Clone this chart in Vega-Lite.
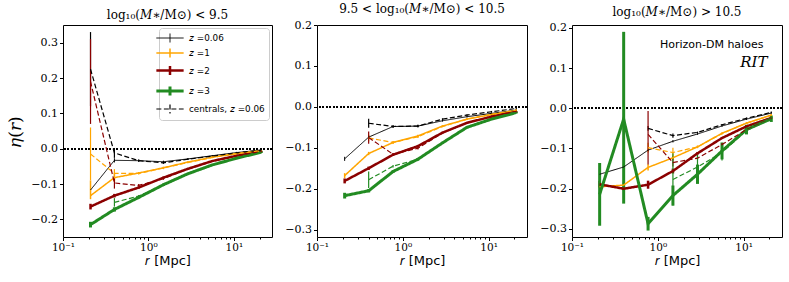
{
  "$schema": "https://vega.github.io/schema/vega-lite/v6.json",
  "padding": {"left": 6, "top": 2, "right": 8, "bottom": 2},
  "spacing": 10,
  "config": {
    "font": "DejaVu Serif",
    "view": {"stroke": "black", "strokeWidth": 1},
    "axis": {"labelFont": "DejaVu Serif", "labelFontSize": 11, "labelColor": "black", "tickColor": "black", "tickWidth": 1, "tickSize": 3.5, "labelPadding": 2, "labelFlush": false, "domain": false, "grid": false, "titleFont": "DejaVu Sans", "titleFontWeight": "normal", "titleFontSize": 13, "titleColor": "black"},
    "axisX": {"labelFontSize": 10.5, "labelPadding": 1.5},
    "legend": {"title": null, "orient": "top-right", "offset": 3, "symbolType": "M-2.6,0H2.6M0,-0.85V0.85", "symbolSize": 110, "symbolOffset": 0, "labelOffset": 12, "labelFont": "DejaVu Sans", "labelFontSize": 8.8, "labelColor": "black", "strokeColor": "#cccccc", "fillColor": "rgba(255,255,255,0.8)", "padding": 4, "cornerRadius": 3, "rowPadding": 0},
    "title": {"font": "DejaVu Serif", "fontSize": 12, "fontWeight": "normal", "offset": 3, "color": "black"}
  },
  "datasets": {
    "pts": [
      {"p":1,"s":"𝑧 =0.06","x":0.21,"y":-0.117,"lo":-0.127,"hi":-0.107},
      {"p":1,"s":"𝑧 =0.06","x":0.4,"y":-0.033,"lo":-0.039,"hi":-0.027},
      {"p":1,"s":"𝑧 =0.06","x":0.77,"y":-0.034,"lo":-0.037,"hi":-0.031},
      {"p":1,"s":"𝑧 =0.06","x":1.5,"y":-0.037,"lo":-0.04,"hi":-0.034},
      {"p":1,"s":"𝑧 =0.06","x":2.9,"y":-0.029,"lo":-0.031,"hi":-0.027},
      {"p":1,"s":"𝑧 =0.06","x":5.6,"y":-0.02,"lo":-0.022,"hi":-0.018},
      {"p":1,"s":"𝑧 =0.06","x":10.8,"y":-0.011,"lo":-0.013,"hi":-0.009},
      {"p":1,"s":"𝑧 =0.06","x":21,"y":-0.004,"lo":-0.006,"hi":-0.002},
      {"p":1,"s":"𝑧 =1","x":0.21,"y":-0.133,"lo":-0.143,"hi":-0.09},
      {"p":1,"s":"𝑧 =1","x":0.4,"y":-0.082,"lo":-0.094,"hi":-0.07},
      {"p":1,"s":"𝑧 =1","x":0.77,"y":-0.069,"lo":-0.072,"hi":-0.066},
      {"p":1,"s":"𝑧 =1","x":1.5,"y":-0.054,"lo":-0.057,"hi":-0.051},
      {"p":1,"s":"𝑧 =1","x":2.9,"y":-0.038,"lo":-0.04,"hi":-0.036},
      {"p":1,"s":"𝑧 =1","x":5.6,"y":-0.024,"lo":-0.026,"hi":-0.022},
      {"p":1,"s":"𝑧 =1","x":10.8,"y":-0.014,"lo":-0.016,"hi":-0.012},
      {"p":1,"s":"𝑧 =1","x":21,"y":-0.006,"lo":-0.008,"hi":-0.004},
      {"p":1,"s":"𝑧 =2","x":0.21,"y":-0.164,"lo":-0.172,"hi":-0.156},
      {"p":1,"s":"𝑧 =2","x":0.4,"y":-0.133,"lo":-0.138,"hi":-0.128},
      {"p":1,"s":"𝑧 =2","x":0.77,"y":-0.11,"lo":-0.113,"hi":-0.107},
      {"p":1,"s":"𝑧 =2","x":1.5,"y":-0.082,"lo":-0.085,"hi":-0.079},
      {"p":1,"s":"𝑧 =2","x":2.9,"y":-0.057,"lo":-0.059,"hi":-0.055},
      {"p":1,"s":"𝑧 =2","x":5.6,"y":-0.035,"lo":-0.037,"hi":-0.033},
      {"p":1,"s":"𝑧 =2","x":10.8,"y":-0.02,"lo":-0.022,"hi":-0.018},
      {"p":1,"s":"𝑧 =2","x":21,"y":-0.008,"lo":-0.01,"hi":-0.006},
      {"p":1,"s":"𝑧 =3","x":0.21,"y":-0.215,"lo":-0.223,"hi":-0.207},
      {"p":1,"s":"𝑧 =3","x":0.4,"y":-0.172,"lo":-0.178,"hi":-0.166},
      {"p":1,"s":"𝑧 =3","x":0.77,"y":-0.138,"lo":-0.141,"hi":-0.135},
      {"p":1,"s":"𝑧 =3","x":1.5,"y":-0.102,"lo":-0.105,"hi":-0.099},
      {"p":1,"s":"𝑧 =3","x":2.9,"y":-0.071,"lo":-0.073,"hi":-0.069},
      {"p":1,"s":"𝑧 =3","x":5.6,"y":-0.046,"lo":-0.048,"hi":-0.044},
      {"p":1,"s":"𝑧 =3","x":10.8,"y":-0.027,"lo":-0.029,"hi":-0.025},
      {"p":1,"s":"𝑧 =3","x":21,"y":-0.01,"lo":-0.012,"hi":-0.008},
      {"p":1,"s":"centrals, 𝑧 =0.06","x":0.21,"y":0.225,"lo":0.12,"hi":0.33},
      {"p":1,"s":"centrals, 𝑧 =0.06","x":0.4,"y":-0.012,"lo":-0.026,"hi":0.002},
      {"p":1,"s":"centrals, 𝑧 =0.06","x":0.77,"y":-0.034,"lo":-0.037,"hi":-0.031},
      {"p":1,"s":"centrals, 𝑧 =0.06","x":1.5,"y":-0.04,"lo":-0.043,"hi":-0.037},
      {"p":1,"s":"centrals, 𝑧 =0.06","x":2.9,"y":-0.03,"lo":-0.032,"hi":-0.028},
      {"p":1,"s":"centrals, 𝑧 =0.06","x":5.6,"y":-0.021,"lo":-0.023,"hi":-0.019},
      {"p":1,"s":"centrals, 𝑧 =0.06","x":10.8,"y":-0.012,"lo":-0.014,"hi":-0.01},
      {"p":1,"s":"centrals, 𝑧 =0.06","x":21,"y":-0.004,"lo":-0.006,"hi":-0.002},
      {"p":1,"s":"centrals, 𝑧 =1","x":0.21,"y":-0.015,"lo":-0.09,"hi":0.06},
      {"p":1,"s":"centrals, 𝑧 =1","x":0.4,"y":-0.07,"lo":-0.082,"hi":-0.058},
      {"p":1,"s":"centrals, 𝑧 =1","x":0.77,"y":-0.07,"lo":-0.073,"hi":-0.067},
      {"p":1,"s":"centrals, 𝑧 =1","x":1.5,"y":-0.055,"lo":-0.058,"hi":-0.052},
      {"p":1,"s":"centrals, 𝑧 =1","x":2.9,"y":-0.039,"lo":-0.041,"hi":-0.037},
      {"p":1,"s":"centrals, 𝑧 =1","x":5.6,"y":-0.025,"lo":-0.027,"hi":-0.023},
      {"p":1,"s":"centrals, 𝑧 =1","x":10.8,"y":-0.014,"lo":-0.016,"hi":-0.012},
      {"p":1,"s":"centrals, 𝑧 =1","x":21,"y":-0.006,"lo":-0.008,"hi":-0.004},
      {"p":1,"s":"centrals, 𝑧 =2","x":0.21,"y":0.19,"lo":0.07,"hi":0.31},
      {"p":1,"s":"centrals, 𝑧 =2","x":0.4,"y":-0.097,"lo":-0.113,"hi":-0.081},
      {"p":1,"s":"centrals, 𝑧 =2","x":0.77,"y":-0.104,"lo":-0.108,"hi":-0.1},
      {"p":1,"s":"centrals, 𝑧 =2","x":1.5,"y":-0.085,"lo":-0.088,"hi":-0.082},
      {"p":1,"s":"centrals, 𝑧 =2","x":2.9,"y":-0.058,"lo":-0.06,"hi":-0.056},
      {"p":1,"s":"centrals, 𝑧 =2","x":5.6,"y":-0.036,"lo":-0.038,"hi":-0.034},
      {"p":1,"s":"centrals, 𝑧 =2","x":10.8,"y":-0.02,"lo":-0.022,"hi":-0.018},
      {"p":1,"s":"centrals, 𝑧 =2","x":21,"y":-0.008,"lo":-0.01,"hi":-0.006},
      {"p":1,"s":"centrals, 𝑧 =3","x":0.4,"y":-0.152,"lo":-0.164,"hi":-0.14},
      {"p":1,"s":"centrals, 𝑧 =3","x":0.77,"y":-0.134,"lo":-0.137,"hi":-0.131},
      {"p":1,"s":"centrals, 𝑧 =3","x":1.5,"y":-0.103,"lo":-0.106,"hi":-0.1},
      {"p":1,"s":"centrals, 𝑧 =3","x":2.9,"y":-0.072,"lo":-0.074,"hi":-0.07},
      {"p":1,"s":"centrals, 𝑧 =3","x":5.6,"y":-0.047,"lo":-0.049,"hi":-0.045},
      {"p":1,"s":"centrals, 𝑧 =3","x":10.8,"y":-0.027,"lo":-0.029,"hi":-0.025},
      {"p":1,"s":"centrals, 𝑧 =3","x":21,"y":-0.01,"lo":-0.012,"hi":-0.008},

      {"p":2,"s":"𝑧 =0.06","x":0.21,"y":-0.127,"lo":-0.132,"hi":-0.122},
      {"p":2,"s":"𝑧 =0.06","x":0.4,"y":-0.074,"lo":-0.079,"hi":-0.069},
      {"p":2,"s":"𝑧 =0.06","x":0.77,"y":-0.048,"lo":-0.051,"hi":-0.045},
      {"p":2,"s":"𝑧 =0.06","x":1.5,"y":-0.047,"lo":-0.05,"hi":-0.044},
      {"p":2,"s":"𝑧 =0.06","x":2.9,"y":-0.034,"lo":-0.036,"hi":-0.032},
      {"p":2,"s":"𝑧 =0.06","x":5.6,"y":-0.024,"lo":-0.026,"hi":-0.022},
      {"p":2,"s":"𝑧 =0.06","x":10.8,"y":-0.016,"lo":-0.018,"hi":-0.014},
      {"p":2,"s":"𝑧 =0.06","x":21,"y":-0.008,"lo":-0.01,"hi":-0.006},
      {"p":2,"s":"𝑧 =1","x":0.21,"y":-0.168,"lo":-0.174,"hi":-0.162},
      {"p":2,"s":"𝑧 =1","x":0.4,"y":-0.114,"lo":-0.118,"hi":-0.11},
      {"p":2,"s":"𝑧 =1","x":0.77,"y":-0.087,"lo":-0.09,"hi":-0.084},
      {"p":2,"s":"𝑧 =1","x":1.5,"y":-0.071,"lo":-0.074,"hi":-0.068},
      {"p":2,"s":"𝑧 =1","x":2.9,"y":-0.047,"lo":-0.049,"hi":-0.045},
      {"p":2,"s":"𝑧 =1","x":5.6,"y":-0.03,"lo":-0.032,"hi":-0.028},
      {"p":2,"s":"𝑧 =1","x":10.8,"y":-0.019,"lo":-0.021,"hi":-0.017},
      {"p":2,"s":"𝑧 =1","x":21,"y":-0.009,"lo":-0.011,"hi":-0.007},
      {"p":2,"s":"𝑧 =2","x":0.21,"y":-0.181,"lo":-0.187,"hi":-0.175},
      {"p":2,"s":"𝑧 =2","x":0.4,"y":-0.15,"lo":-0.154,"hi":-0.146},
      {"p":2,"s":"𝑧 =2","x":0.77,"y":-0.117,"lo":-0.12,"hi":-0.114},
      {"p":2,"s":"𝑧 =2","x":1.5,"y":-0.096,"lo":-0.099,"hi":-0.093},
      {"p":2,"s":"𝑧 =2","x":2.9,"y":-0.063,"lo":-0.065,"hi":-0.061},
      {"p":2,"s":"𝑧 =2","x":5.6,"y":-0.039,"lo":-0.041,"hi":-0.037},
      {"p":2,"s":"𝑧 =2","x":10.8,"y":-0.024,"lo":-0.026,"hi":-0.022},
      {"p":2,"s":"𝑧 =2","x":21,"y":-0.012,"lo":-0.014,"hi":-0.01},
      {"p":2,"s":"𝑧 =3","x":0.21,"y":-0.217,"lo":-0.224,"hi":-0.21},
      {"p":2,"s":"𝑧 =3","x":0.4,"y":-0.205,"lo":-0.209,"hi":-0.201},
      {"p":2,"s":"𝑧 =3","x":0.77,"y":-0.158,"lo":-0.161,"hi":-0.155},
      {"p":2,"s":"𝑧 =3","x":1.5,"y":-0.128,"lo":-0.131,"hi":-0.125},
      {"p":2,"s":"𝑧 =3","x":2.9,"y":-0.088,"lo":-0.09,"hi":-0.086},
      {"p":2,"s":"𝑧 =3","x":5.6,"y":-0.05,"lo":-0.052,"hi":-0.048},
      {"p":2,"s":"𝑧 =3","x":10.8,"y":-0.03,"lo":-0.032,"hi":-0.028},
      {"p":2,"s":"𝑧 =3","x":21,"y":-0.014,"lo":-0.016,"hi":-0.012},
      {"p":2,"s":"centrals, 𝑧 =0.06","x":0.4,"y":-0.04,"lo":-0.051,"hi":-0.029},
      {"p":2,"s":"centrals, 𝑧 =0.06","x":0.77,"y":-0.048,"lo":-0.051,"hi":-0.045},
      {"p":2,"s":"centrals, 𝑧 =0.06","x":1.5,"y":-0.047,"lo":-0.05,"hi":-0.044},
      {"p":2,"s":"centrals, 𝑧 =0.06","x":2.9,"y":-0.03,"lo":-0.032,"hi":-0.028},
      {"p":2,"s":"centrals, 𝑧 =0.06","x":5.6,"y":-0.02,"lo":-0.022,"hi":-0.018},
      {"p":2,"s":"centrals, 𝑧 =0.06","x":10.8,"y":-0.012,"lo":-0.014,"hi":-0.01},
      {"p":2,"s":"centrals, 𝑧 =0.06","x":21,"y":-0.004,"lo":-0.006,"hi":-0.002},
      {"p":2,"s":"centrals, 𝑧 =1","x":0.4,"y":-0.076,"lo":-0.084,"hi":-0.068},
      {"p":2,"s":"centrals, 𝑧 =1","x":0.77,"y":-0.087,"lo":-0.09,"hi":-0.084},
      {"p":2,"s":"centrals, 𝑧 =1","x":1.5,"y":-0.073,"lo":-0.076,"hi":-0.07},
      {"p":2,"s":"centrals, 𝑧 =1","x":2.9,"y":-0.048,"lo":-0.05,"hi":-0.046},
      {"p":2,"s":"centrals, 𝑧 =1","x":5.6,"y":-0.03,"lo":-0.032,"hi":-0.028},
      {"p":2,"s":"centrals, 𝑧 =1","x":10.8,"y":-0.018,"lo":-0.02,"hi":-0.016},
      {"p":2,"s":"centrals, 𝑧 =1","x":21,"y":-0.008,"lo":-0.01,"hi":-0.006},
      {"p":2,"s":"centrals, 𝑧 =2","x":0.4,"y":-0.075,"lo":-0.09,"hi":-0.06},
      {"p":2,"s":"centrals, 𝑧 =2","x":0.77,"y":-0.116,"lo":-0.119,"hi":-0.113},
      {"p":2,"s":"centrals, 𝑧 =2","x":1.5,"y":-0.101,"lo":-0.104,"hi":-0.098},
      {"p":2,"s":"centrals, 𝑧 =2","x":2.9,"y":-0.064,"lo":-0.066,"hi":-0.062},
      {"p":2,"s":"centrals, 𝑧 =2","x":5.6,"y":-0.039,"lo":-0.041,"hi":-0.037},
      {"p":2,"s":"centrals, 𝑧 =2","x":10.8,"y":-0.023,"lo":-0.025,"hi":-0.021},
      {"p":2,"s":"centrals, 𝑧 =2","x":21,"y":-0.011,"lo":-0.013,"hi":-0.009},
      {"p":2,"s":"centrals, 𝑧 =3","x":0.4,"y":-0.178,"lo":-0.198,"hi":-0.158},
      {"p":2,"s":"centrals, 𝑧 =3","x":0.77,"y":-0.145,"lo":-0.148,"hi":-0.142},
      {"p":2,"s":"centrals, 𝑧 =3","x":1.5,"y":-0.128,"lo":-0.131,"hi":-0.125},
      {"p":2,"s":"centrals, 𝑧 =3","x":2.9,"y":-0.088,"lo":-0.09,"hi":-0.086},
      {"p":2,"s":"centrals, 𝑧 =3","x":5.6,"y":-0.05,"lo":-0.052,"hi":-0.048},
      {"p":2,"s":"centrals, 𝑧 =3","x":10.8,"y":-0.029,"lo":-0.031,"hi":-0.027},
      {"p":2,"s":"centrals, 𝑧 =3","x":21,"y":-0.013,"lo":-0.015,"hi":-0.011},

      {"p":3,"s":"𝑧 =0.06","x":0.21,"y":-0.164,"lo":-0.169,"hi":-0.159},
      {"p":3,"s":"𝑧 =0.06","x":0.4,"y":-0.146,"lo":-0.15,"hi":-0.142},
      {"p":3,"s":"𝑧 =0.06","x":0.77,"y":-0.104,"lo":-0.107,"hi":-0.101},
      {"p":3,"s":"𝑧 =0.06","x":1.5,"y":-0.082,"lo":-0.085,"hi":-0.079},
      {"p":3,"s":"𝑧 =0.06","x":2.9,"y":-0.064,"lo":-0.066,"hi":-0.062},
      {"p":3,"s":"𝑧 =0.06","x":5.6,"y":-0.044,"lo":-0.046,"hi":-0.042},
      {"p":3,"s":"𝑧 =0.06","x":10.8,"y":-0.027,"lo":-0.029,"hi":-0.025},
      {"p":3,"s":"𝑧 =0.06","x":21,"y":-0.012,"lo":-0.014,"hi":-0.01},
      {"p":3,"s":"𝑧 =1","x":0.21,"y":-0.195,"lo":-0.201,"hi":-0.189},
      {"p":3,"s":"𝑧 =1","x":0.4,"y":-0.191,"lo":-0.196,"hi":-0.186},
      {"p":3,"s":"𝑧 =1","x":0.77,"y":-0.147,"lo":-0.155,"hi":-0.139},
      {"p":3,"s":"𝑧 =1","x":1.5,"y":-0.123,"lo":-0.128,"hi":-0.118},
      {"p":3,"s":"𝑧 =1","x":2.9,"y":-0.096,"lo":-0.099,"hi":-0.093},
      {"p":3,"s":"𝑧 =1","x":5.6,"y":-0.062,"lo":-0.064,"hi":-0.06},
      {"p":3,"s":"𝑧 =1","x":10.8,"y":-0.037,"lo":-0.039,"hi":-0.035},
      {"p":3,"s":"𝑧 =1","x":21,"y":-0.017,"lo":-0.019,"hi":-0.015},
      {"p":3,"s":"𝑧 =2","x":0.21,"y":-0.189,"lo":-0.197,"hi":-0.181},
      {"p":3,"s":"𝑧 =2","x":0.4,"y":-0.2,"lo":-0.204,"hi":-0.196},
      {"p":3,"s":"𝑧 =2","x":0.77,"y":-0.19,"lo":-0.2,"hi":-0.18},
      {"p":3,"s":"𝑧 =2","x":1.5,"y":-0.156,"lo":-0.162,"hi":-0.15},
      {"p":3,"s":"𝑧 =2","x":2.9,"y":-0.112,"lo":-0.115,"hi":-0.109},
      {"p":3,"s":"𝑧 =2","x":5.6,"y":-0.074,"lo":-0.076,"hi":-0.072},
      {"p":3,"s":"𝑧 =2","x":10.8,"y":-0.045,"lo":-0.047,"hi":-0.043},
      {"p":3,"s":"𝑧 =2","x":21,"y":-0.024,"lo":-0.026,"hi":-0.022},
      {"p":3,"s":"𝑧 =3","x":0.21,"y":-0.214,"lo":-0.292,"hi":-0.136},
      {"p":3,"s":"𝑧 =3","x":0.4,"y":-0.027,"lo":-0.237,"hi":0.19},
      {"p":3,"s":"𝑧 =3","x":0.77,"y":-0.287,"lo":-0.304,"hi":-0.27},
      {"p":3,"s":"𝑧 =3","x":1.5,"y":-0.217,"lo":-0.242,"hi":-0.192},
      {"p":3,"s":"𝑧 =3","x":2.9,"y":-0.164,"lo":-0.188,"hi":-0.14},
      {"p":3,"s":"𝑧 =3","x":5.6,"y":-0.106,"lo":-0.127,"hi":-0.085},
      {"p":3,"s":"𝑧 =3","x":10.8,"y":-0.053,"lo":-0.065,"hi":-0.041},
      {"p":3,"s":"𝑧 =3","x":21,"y":-0.026,"lo":-0.034,"hi":-0.018},
      {"p":3,"s":"centrals, 𝑧 =0.06","x":0.77,"y":-0.05,"lo":-0.056,"hi":-0.044},
      {"p":3,"s":"centrals, 𝑧 =0.06","x":1.5,"y":-0.068,"lo":-0.073,"hi":-0.063},
      {"p":3,"s":"centrals, 𝑧 =0.06","x":2.9,"y":-0.06,"lo":-0.062,"hi":-0.058},
      {"p":3,"s":"centrals, 𝑧 =0.06","x":5.6,"y":-0.041,"lo":-0.043,"hi":-0.039},
      {"p":3,"s":"centrals, 𝑧 =0.06","x":10.8,"y":-0.025,"lo":-0.027,"hi":-0.023},
      {"p":3,"s":"centrals, 𝑧 =0.06","x":21,"y":-0.01,"lo":-0.012,"hi":-0.008},
      {"p":3,"s":"centrals, 𝑧 =1","x":0.77,"y":-0.098,"lo":-0.11,"hi":-0.086},
      {"p":3,"s":"centrals, 𝑧 =1","x":1.5,"y":-0.11,"lo":-0.122,"hi":-0.098},
      {"p":3,"s":"centrals, 𝑧 =1","x":2.9,"y":-0.096,"lo":-0.099,"hi":-0.093},
      {"p":3,"s":"centrals, 𝑧 =1","x":5.6,"y":-0.063,"lo":-0.065,"hi":-0.061},
      {"p":3,"s":"centrals, 𝑧 =1","x":10.8,"y":-0.037,"lo":-0.039,"hi":-0.035},
      {"p":3,"s":"centrals, 𝑧 =1","x":21,"y":-0.017,"lo":-0.019,"hi":-0.015},
      {"p":3,"s":"centrals, 𝑧 =2","x":0.77,"y":-0.065,"lo":-0.14,"hi":-0.007},
      {"p":3,"s":"centrals, 𝑧 =2","x":1.5,"y":-0.135,"lo":-0.145,"hi":-0.125},
      {"p":3,"s":"centrals, 𝑧 =2","x":2.9,"y":-0.124,"lo":-0.128,"hi":-0.12},
      {"p":3,"s":"centrals, 𝑧 =2","x":5.6,"y":-0.09,"lo":-0.093,"hi":-0.087},
      {"p":3,"s":"centrals, 𝑧 =2","x":10.8,"y":-0.053,"lo":-0.055,"hi":-0.051},
      {"p":3,"s":"centrals, 𝑧 =2","x":21,"y":-0.025,"lo":-0.027,"hi":-0.023},
      {"p":3,"s":"centrals, 𝑧 =3","x":1.5,"y":-0.177,"lo":-0.242,"hi":-0.112},
      {"p":3,"s":"centrals, 𝑧 =3","x":2.9,"y":-0.146,"lo":-0.176,"hi":-0.116},
      {"p":3,"s":"centrals, 𝑧 =3","x":5.6,"y":-0.11,"lo":-0.13,"hi":-0.09},
      {"p":3,"s":"centrals, 𝑧 =3","x":10.8,"y":-0.055,"lo":-0.062,"hi":-0.048},
      {"p":3,"s":"centrals, 𝑧 =3","x":21,"y":-0.026,"lo":-0.03,"hi":-0.022}
    ]
  },
  "hconcat": [
    {
      "width": 209, "height": 212,
      "title": "log₁₀(𝑀∗/M⊙) < 9.5",
      "data": {"name": "pts"},
      "transform": [{"filter": "datum.p == 1"}],
      "layer": [
        {"mark": {"type": "rule", "strokeDash": [1.5, 2], "strokeWidth": 1.5, "color": "black"},
         "encoding": {"y": {"datum": 0, "type": "quantitative", "scale": {"domain": [-0.25, 0.35]}, "axis": {"values": [-0.2, -0.1, 0, 0.1, 0.2, 0.3], "format": ".1f", "labelExpr": "replace(datum.label, '-', '−')", "title": "𝜂(𝑟)", "titleFont": "DejaVu Serif", "titleFontSize": 17, "titlePadding": 6}}}},
        {"mark": {"type": "rule"},
         "encoding": {
           "x": {"field": "x", "type": "quantitative", "scale": {"type": "log", "domain": [0.1, 28], "nice": false}, "axis": {"orient": "bottom", "values": [0.2,0.3,0.4,0.5,0.6,0.7,0.8,0.9,2,3,4,5,6,7,8,9,20], "labels": false, "title": null, "tickSize": 2}},
           "y": {"field": "lo", "type": "quantitative", "scale": {"domain": [-0.25, 0.35]}, "axis": {"values": [-0.2, -0.1, 0, 0.1, 0.2, 0.3], "format": ".1f", "labelExpr": "replace(datum.label, '-', '−')", "title": "𝜂(𝑟)", "titleFont": "DejaVu Serif", "titleFontSize": 17, "titlePadding": 6}},
           "y2": {"field": "hi"},
           "color": {"field": "s", "type": "nominal", "scale": {"domain": ["𝑧 =0.06","𝑧 =1","𝑧 =2","𝑧 =3","centrals, 𝑧 =0.06","centrals, 𝑧 =1","centrals, 𝑧 =2","centrals, 𝑧 =3"], "range": ["black","#FFA500","#8B0000","#228B22","black","#FFA500","#8B0000","#228B22"]}},
           "strokeWidth": {"field": "s", "type": "nominal", "scale": {"type": "ordinal", "domain": ["𝑧 =0.06","𝑧 =1","𝑧 =2","𝑧 =3","centrals, 𝑧 =0.06","centrals, 𝑧 =1","centrals, 𝑧 =2","centrals, 𝑧 =3"], "range": [1, 1.5, 2.5, 3, 1.2, 1.2, 1.2, 1.2]}}
         }},
        {"mark": {"type": "line"},
         "encoding": {
           "x": {"field": "x", "type": "quantitative", "scale": {"type": "log", "domain": [0.1, 28], "nice": false}, "axis": {"orient": "bottom", "values": [0.1, 1, 10], "labelExpr": "datum.value < 0.5 ? '10⁻¹' : datum.value < 5 ? '10⁰' : '10¹'", "title": "𝑟 [Mpc]", "titlePadding": 1.5}},
           "y": {"field": "y", "type": "quantitative", "scale": {"domain": [-0.25, 0.35]}, "axis": {"values": [-0.2, -0.1, 0, 0.1, 0.2, 0.3], "format": ".1f", "labelExpr": "replace(datum.label, '-', '−')", "title": "𝜂(𝑟)", "titleFont": "DejaVu Serif", "titleFontSize": 17, "titlePadding": 6}},
           "order": {"field": "x", "type": "quantitative"},
           "color": {"field": "s", "type": "nominal", "scale": {"domain": ["𝑧 =0.06","𝑧 =1","𝑧 =2","𝑧 =3","centrals, 𝑧 =0.06","centrals, 𝑧 =1","centrals, 𝑧 =2","centrals, 𝑧 =3"], "range": ["black","#FFA500","#8B0000","#228B22","black","#FFA500","#8B0000","#228B22"]},
             "legend": {"values": ["𝑧 =0.06","𝑧 =1","𝑧 =2","𝑧 =3","centrals, 𝑧 =0.06"], "orient": "top-right", "title": null}},
           "strokeDash": {"field": "s", "type": "nominal", "scale": {"domain": ["𝑧 =0.06","𝑧 =1","𝑧 =2","𝑧 =3","centrals, 𝑧 =0.06","centrals, 𝑧 =1","centrals, 𝑧 =2","centrals, 𝑧 =3"], "range": [[1,0],[1,0],[1,0],[1,0],[5,2.5],[5,2.5],[5,2.5],[5,2.5]]},
             "legend": {"values": ["𝑧 =0.06","𝑧 =1","𝑧 =2","𝑧 =3","centrals, 𝑧 =0.06"], "orient": "top-right", "title": null}},
           "strokeWidth": {"field": "s", "type": "nominal", "scale": {"type": "ordinal", "domain": ["𝑧 =0.06","𝑧 =1","𝑧 =2","𝑧 =3","centrals, 𝑧 =0.06","centrals, 𝑧 =1","centrals, 𝑧 =2","centrals, 𝑧 =3"], "range": [1, 1.5, 2.5, 3, 1.2, 1.2, 1.2, 1.2]},
             "legend": {"values": ["𝑧 =0.06","𝑧 =1","𝑧 =2","𝑧 =3","centrals, 𝑧 =0.06"], "orient": "top-right", "title": null}}
         }}
      ],
      "resolve": {"axis": {"x": "independent"}}
    },
    {
      "width": 210, "height": 212,
      "title": "9.5 < log₁₀(𝑀∗/M⊙) < 10.5",
      "data": {"name": "pts"},
      "transform": [{"filter": "datum.p == 2"}],
      "layer": [
        {"mark": {"type": "rule", "strokeDash": [1.5, 2], "strokeWidth": 1.5, "color": "black"},
         "encoding": {"y": {"datum": 0, "type": "quantitative", "scale": {"domain": [-0.318, 0.2]}, "axis": {"values": [-0.3, -0.2, -0.1, 0, 0.1, 0.2], "format": ".1f", "labelExpr": "replace(datum.label, '-', '−')", "title": null}}}},
        {"mark": {"type": "rule"},
         "encoding": {
           "x": {"field": "x", "type": "quantitative", "scale": {"type": "log", "domain": [0.1, 28], "nice": false}, "axis": {"orient": "bottom", "values": [0.2,0.3,0.4,0.5,0.6,0.7,0.8,0.9,2,3,4,5,6,7,8,9,20], "labels": false, "title": null, "tickSize": 2}},
           "y": {"field": "lo", "type": "quantitative", "scale": {"domain": [-0.318, 0.2]}, "axis": {"values": [-0.3, -0.2, -0.1, 0, 0.1, 0.2], "format": ".1f", "labelExpr": "replace(datum.label, '-', '−')", "title": null}},
           "y2": {"field": "hi"},
           "color": {"field": "s", "type": "nominal", "scale": {"domain": ["𝑧 =0.06","𝑧 =1","𝑧 =2","𝑧 =3","centrals, 𝑧 =0.06","centrals, 𝑧 =1","centrals, 𝑧 =2","centrals, 𝑧 =3"], "range": ["black","#FFA500","#8B0000","#228B22","black","#FFA500","#8B0000","#228B22"]}, "legend": null},
           "strokeWidth": {"field": "s", "type": "nominal", "scale": {"type": "ordinal", "domain": ["𝑧 =0.06","𝑧 =1","𝑧 =2","𝑧 =3","centrals, 𝑧 =0.06","centrals, 𝑧 =1","centrals, 𝑧 =2","centrals, 𝑧 =3"], "range": [1, 1.5, 2.5, 3, 1.2, 1.2, 1.2, 1.2]}, "legend": null}
         }},
        {"mark": {"type": "line"},
         "encoding": {
           "x": {"field": "x", "type": "quantitative", "scale": {"type": "log", "domain": [0.1, 28], "nice": false}, "axis": {"orient": "bottom", "values": [0.1, 1, 10], "labelExpr": "datum.value < 0.5 ? '10⁻¹' : datum.value < 5 ? '10⁰' : '10¹'", "title": "𝑟 [Mpc]", "titlePadding": 1.5}},
           "y": {"field": "y", "type": "quantitative", "scale": {"domain": [-0.318, 0.2]}, "axis": {"values": [-0.3, -0.2, -0.1, 0, 0.1, 0.2], "format": ".1f", "labelExpr": "replace(datum.label, '-', '−')", "title": null}},
           "order": {"field": "x", "type": "quantitative"},
           "color": {"field": "s", "type": "nominal", "scale": {"domain": ["𝑧 =0.06","𝑧 =1","𝑧 =2","𝑧 =3","centrals, 𝑧 =0.06","centrals, 𝑧 =1","centrals, 𝑧 =2","centrals, 𝑧 =3"], "range": ["black","#FFA500","#8B0000","#228B22","black","#FFA500","#8B0000","#228B22"]}, "legend": null},
           "strokeDash": {"field": "s", "type": "nominal", "scale": {"domain": ["𝑧 =0.06","𝑧 =1","𝑧 =2","𝑧 =3","centrals, 𝑧 =0.06","centrals, 𝑧 =1","centrals, 𝑧 =2","centrals, 𝑧 =3"], "range": [[1,0],[1,0],[1,0],[1,0],[5,2.5],[5,2.5],[5,2.5],[5,2.5]]}, "legend": null},
           "strokeWidth": {"field": "s", "type": "nominal", "scale": {"type": "ordinal", "domain": ["𝑧 =0.06","𝑧 =1","𝑧 =2","𝑧 =3","centrals, 𝑧 =0.06","centrals, 𝑧 =1","centrals, 𝑧 =2","centrals, 𝑧 =3"], "range": [1, 1.5, 2.5, 3, 1.2, 1.2, 1.2, 1.2]}, "legend": null}
         }}
      ],
      "resolve": {"axis": {"x": "independent"}}
    },
    {
      "width": 210, "height": 212,
      "title": "log₁₀(𝑀∗/M⊙) > 10.5",
      "data": {"name": "pts"},
      "transform": [{"filter": "datum.p == 3"}],
      "layer": [
        {"mark": {"type": "rule", "strokeDash": [1.5, 2], "strokeWidth": 1.5, "color": "black"},
         "encoding": {"y": {"datum": 0, "type": "quantitative", "scale": {"domain": [-0.32, 0.207]}, "axis": {"values": [-0.3, -0.2, -0.1, 0, 0.1, 0.2], "format": ".1f", "labelExpr": "replace(datum.label, '-', '−')", "title": null}}}},
        {"mark": {"type": "rule"},
         "encoding": {
           "x": {"field": "x", "type": "quantitative", "scale": {"type": "log", "domain": [0.1, 28], "nice": false}, "axis": {"orient": "bottom", "values": [0.2,0.3,0.4,0.5,0.6,0.7,0.8,0.9,2,3,4,5,6,7,8,9,20], "labels": false, "title": null, "tickSize": 2}},
           "y": {"field": "lo", "type": "quantitative", "scale": {"domain": [-0.32, 0.207]}, "axis": {"values": [-0.3, -0.2, -0.1, 0, 0.1, 0.2], "format": ".1f", "labelExpr": "replace(datum.label, '-', '−')", "title": null}},
           "y2": {"field": "hi"},
           "color": {"field": "s", "type": "nominal", "scale": {"domain": ["𝑧 =0.06","𝑧 =1","𝑧 =2","𝑧 =3","centrals, 𝑧 =0.06","centrals, 𝑧 =1","centrals, 𝑧 =2","centrals, 𝑧 =3"], "range": ["black","#FFA500","#8B0000","#228B22","black","#FFA500","#8B0000","#228B22"]}, "legend": null},
           "strokeWidth": {"field": "s", "type": "nominal", "scale": {"type": "ordinal", "domain": ["𝑧 =0.06","𝑧 =1","𝑧 =2","𝑧 =3","centrals, 𝑧 =0.06","centrals, 𝑧 =1","centrals, 𝑧 =2","centrals, 𝑧 =3"], "range": [1, 1.5, 2.5, 3, 1.2, 1.2, 1.2, 1.2]}, "legend": null}
         }},
        {"mark": {"type": "line"},
         "encoding": {
           "x": {"field": "x", "type": "quantitative", "scale": {"type": "log", "domain": [0.1, 28], "nice": false}, "axis": {"orient": "bottom", "values": [0.1, 1, 10], "labelExpr": "datum.value < 0.5 ? '10⁻¹' : datum.value < 5 ? '10⁰' : '10¹'", "title": "𝑟 [Mpc]", "titlePadding": 1.5}},
           "y": {"field": "y", "type": "quantitative", "scale": {"domain": [-0.32, 0.207]}, "axis": {"values": [-0.3, -0.2, -0.1, 0, 0.1, 0.2], "format": ".1f", "labelExpr": "replace(datum.label, '-', '−')", "title": null}},
           "order": {"field": "x", "type": "quantitative"},
           "color": {"field": "s", "type": "nominal", "scale": {"domain": ["𝑧 =0.06","𝑧 =1","𝑧 =2","𝑧 =3","centrals, 𝑧 =0.06","centrals, 𝑧 =1","centrals, 𝑧 =2","centrals, 𝑧 =3"], "range": ["black","#FFA500","#8B0000","#228B22","black","#FFA500","#8B0000","#228B22"]}, "legend": null},
           "strokeDash": {"field": "s", "type": "nominal", "scale": {"domain": ["𝑧 =0.06","𝑧 =1","𝑧 =2","𝑧 =3","centrals, 𝑧 =0.06","centrals, 𝑧 =1","centrals, 𝑧 =2","centrals, 𝑧 =3"], "range": [[1,0],[1,0],[1,0],[1,0],[5,2.5],[5,2.5],[5,2.5],[5,2.5]]}, "legend": null},
           "strokeWidth": {"field": "s", "type": "nominal", "scale": {"type": "ordinal", "domain": ["𝑧 =0.06","𝑧 =1","𝑧 =2","𝑧 =3","centrals, 𝑧 =0.06","centrals, 𝑧 =1","centrals, 𝑧 =2","centrals, 𝑧 =3"], "range": [1, 1.5, 2.5, 3, 1.2, 1.2, 1.2, 1.2]}, "legend": null}
         }},
        {"data": {"values": [{}]},
         "mark": {"type": "text", "font": "DejaVu Sans", "fontSize": 11, "align": "right", "baseline": "middle", "color": "black"},
         "encoding": {"x": {"datum": 17, "type": "quantitative", "scale": {"type": "log", "domain": [0.1, 28], "nice": false}, "axis": null}, "y": {"datum": 0.157, "type": "quantitative", "scale": {"domain": [-0.32, 0.207]}, "axis": {"values": [-0.3, -0.2, -0.1, 0, 0.1, 0.2], "format": ".1f", "labelExpr": "replace(datum.label, '-', '−')", "title": null}}, "text": {"value": "Horizon-DM haloes"}}},
        {"data": {"values": [{}]},
         "mark": {"type": "text", "font": "DejaVu Serif", "fontStyle": "italic", "fontSize": 15, "align": "right", "baseline": "middle", "color": "black"},
         "encoding": {"x": {"datum": 19, "type": "quantitative", "scale": {"type": "log", "domain": [0.1, 28], "nice": false}, "axis": null}, "y": {"datum": 0.115, "type": "quantitative", "scale": {"domain": [-0.32, 0.207]}, "axis": {"values": [-0.3, -0.2, -0.1, 0, 0.1, 0.2], "format": ".1f", "labelExpr": "replace(datum.label, '-', '−')", "title": null}}, "text": {"value": "RIT"}}}
      ],
      "resolve": {"axis": {"x": "independent"}}
    }
  ],
  "resolve": {"scale": {"color": "independent", "strokeDash": "independent", "strokeWidth": "independent"}, "legend": {"color": "independent", "strokeDash": "independent", "strokeWidth": "independent"}}
}
